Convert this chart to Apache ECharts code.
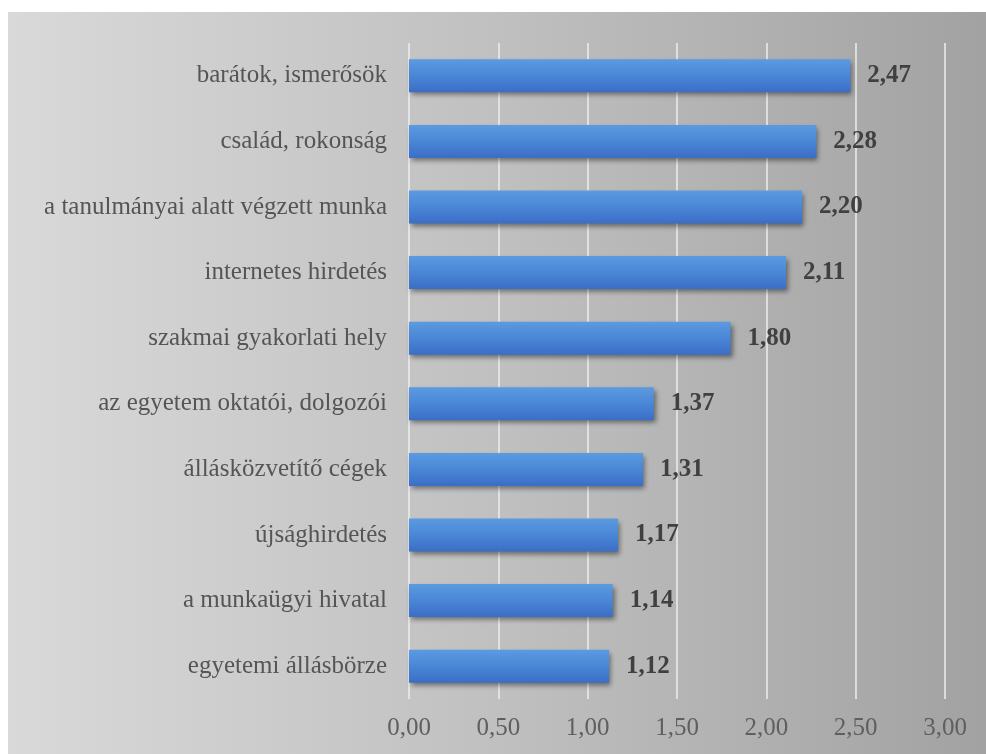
<!DOCTYPE html>
<html><head><meta charset="utf-8">
<script src="https://cdn.jsdelivr.net/npm/echarts@6/dist/echarts.min.js"></script>
<style>html,body{margin:0;padding:0;background:#fff}#c{width:986px;height:754px}</style>
</head><body><div id="c"></div>
<script>
const categories = ['barátok, ismerősök','család, rokonság','a tanulmányai alatt végzett munka','internetes hirdetés','szakmai gyakorlati hely','az egyetem oktatói, dolgozói','állásközvetítő cégek','újsághirdetés','a munkaügyi hivatal','egyetemi állásbörze'];
const values = [2.47, 2.28, 2.20, 2.11, 1.80, 1.37, 1.31, 1.17, 1.14, 1.12];
const xTicks = [0, 0.5, 1, 1.5, 2, 2.5, 3];
const fmt = v => v.toFixed(2).replace('.', ',');
const chart = echarts.init(document.getElementById('c'));
chart.setOption({
  animation: false,
  graphic: [{
    type: 'rect', left: 8, top: 12, z: -10, silent: true,
    shape: { width: 978, height: 742 },
    style: { fill: new echarts.graphic.LinearGradient(0, 0, 1, 0, [
      { offset: 0, color: '#d9d9d9' }, { offset: 0.5, color: '#c0c0c0' }, { offset: 1, color: '#a2a2a2' }]) }
  }],
  grid: { left: 409, right: 41, top: 43, bottom: 55, containLabel: false },
  xAxis: {
    type: 'value', min: xTicks[0], max: xTicks[xTicks.length - 1], interval: 0.5,
    axisLine: { show: false }, axisTick: { show: false },
    splitLine: { lineStyle: { color: '#eeeeee', width: 1.5 } },
    axisLabel: { formatter: fmt, fontFamily: 'Liberation Serif', fontSize: 25, color: '#5f5f5f', margin: 17 }
  },
  yAxis: {
    type: 'category', data: categories, inverse: true,
    axisLine: { show: false }, axisTick: { show: false },
    axisLabel: { fontFamily: 'Liberation Serif', fontSize: 25, color: '#555555', margin: 22 }
  },
  series: [{
    type: 'bar', data: values, barWidth: 33,
    itemStyle: {
      color: new echarts.graphic.LinearGradient(0, 0, 0, 1, [
        { offset: 0, color: '#5b9be0' }, { offset: 0.5, color: '#4a86d6' }, { offset: 1, color: '#3b6ec6' }]),
      shadowColor: 'rgba(0,0,0,0.45)', shadowBlur: 5, shadowOffsetX: 2, shadowOffsetY: 3
    },
    label: { show: true, position: 'right', distance: 17, formatter: p => fmt(p.value),
      fontFamily: 'Liberation Serif', fontWeight: 'bold', fontSize: 25, color: '#404040' }
  }]
});
</script></body></html>
